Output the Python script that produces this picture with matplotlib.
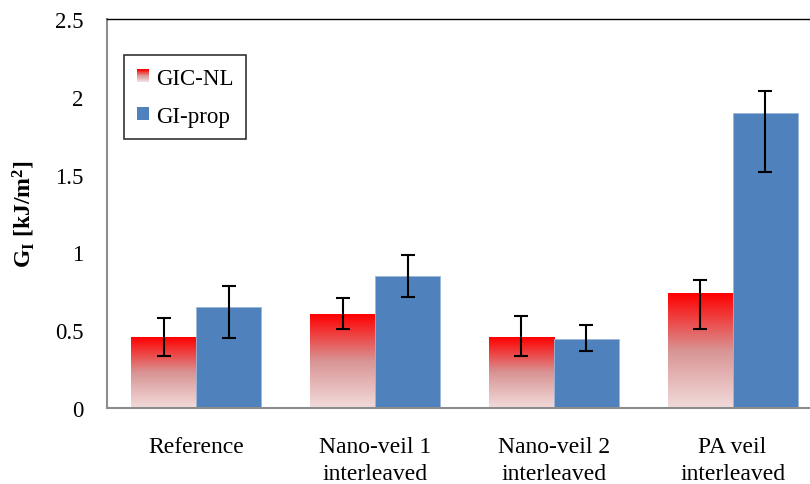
import numpy as np
import matplotlib
matplotlib.use("Agg")
import matplotlib.pyplot as plt
from matplotlib.patches import Rectangle
from matplotlib.legend_handler import HandlerBase
from matplotlib.colors import LinearSegmentedColormap

categories = ["Reference", "Nano-veil 1\ninterleaved", "Nano-veil 2\ninterleaved", "PA veil\ninterleaved"]
gic_nl = [0.456, 0.598, 0.450, 0.739]
gic_nl_hi = [0.578, 0.707, 0.589, 0.822]
gic_nl_lo = [0.334, 0.508, 0.334, 0.510]
gi_prop = [0.651, 0.848, 0.443, 1.896]
gi_prop_hi = [0.786, 0.985, 0.531, 2.040]
gi_prop_lo = [0.450, 0.715, 0.366, 1.517]

plt.rcParams['font.family'] = ['Liberation Serif', 'DejaVu Serif']
plt.rcParams['mathtext.fontset'] = 'custom'
plt.rcParams['mathtext.rm'] = 'Liberation Serif'
plt.rcParams['mathtext.bf'] = 'Liberation Serif:bold'
plt.rcParams['mathtext.it'] = 'Liberation Serif:italic'

red_grad = LinearSegmentedColormap.from_list("redgrad", [(0.95, 0.86, 0.86), (0.85, 0.58, 0.58), (1.0, 0.0, 0.0)])
blue = "#4F81BD"

fig = plt.figure(figsize=(8.1, 4.85), dpi=100)
ax = fig.add_axes([107 / 810, 76 / 485, 715 / 810, 389 / 485])

x = np.arange(len(categories))
w = 0.364
grad = np.linspace(0, 1, 256).reshape(-1, 1)

# red bars with vertical gradient
for xi, v in zip(x, gic_nl):
    ax.imshow(grad, cmap=red_grad, origin="lower", aspect="auto",
              extent=[xi - w, xi, 0, v], zorder=2)
ax.bar(x + w / 2, gi_prop, w, color=blue, edgecolor="#9db7d8", linewidth=0.6, zorder=2)

ax.errorbar(x - w / 2, gic_nl,
            yerr=[np.array(gic_nl) - np.array(gic_nl_lo), np.array(gic_nl_hi) - np.array(gic_nl)],
            fmt="none", ecolor="black", elinewidth=1.5, capsize=5, capthick=1.5, zorder=3)
ax.errorbar(x + w / 2, gi_prop,
            yerr=[np.array(gi_prop) - np.array(gi_prop_lo), np.array(gi_prop_hi) - np.array(gi_prop)],
            fmt="none", ecolor="black", elinewidth=1.5, capsize=5, capthick=1.5, zorder=3)

ax.set_xlim(-0.5, 3.5)
ax.set_ylim(0, 2.5)
ax.set_yticks([0, 0.5, 1, 1.5, 2, 2.5])
ax.set_yticklabels(["0", "0.5", "1", "1.5", "2", "2.5"])
ax.set_xticks(x)
ax.set_xticklabels(categories, linespacing=1.4)
ax.tick_params(axis="both", length=0, colors="black")
ax.tick_params(axis="y", pad=17, labelsize=16.5)
ax.tick_params(axis="x", pad=20, labelsize=17)
ax.set_ylabel(r"$\mathbf{G_I}$ [kJ/m$\mathbf{^2}$]", fontsize=17, fontweight="bold", labelpad=13)

ax.spines["left"].set_color("#8c8c8c")
ax.spines["left"].set_linewidth(1.5)
ax.spines["bottom"].set_color("#8c8c8c")
ax.spines["bottom"].set_linewidth(1.5)
ax.spines["top"].set_color("black")
ax.spines["top"].set_linewidth(1.0)
ax.spines["right"].set_visible(False)


class GradientHandler(HandlerBase):
    def create_artists(self, legend, orig_handle, xdescent, ydescent, width, height, fontsize, trans):
        n = 20
        artists = []
        for i in range(n):
            c = red_grad(1 - i / (n - 1))
            artists.append(Rectangle((-xdescent, -ydescent + height * (1 - (i + 1) / n)), width, height / n,
                                     facecolor=c, edgecolor="none", transform=trans))
        return artists


proxy_red = Rectangle((0, 0), 1, 1)
proxy_blue = Rectangle((0, 0), 1, 1, facecolor=blue)
leg = ax.legend([proxy_red, proxy_blue], ["GIC-NL", "GI-prop"],
                handler_map={proxy_red: GradientHandler()},
                loc="upper left", bbox_to_anchor=(17 / 715, 1 - 36 / 389),
                fontsize=16.5, frameon=True, fancybox=False, edgecolor="black",
                handlelength=0.55, handleheight=0.45, handletextpad=0.3,
                labelspacing=0.75, borderpad=0.55, borderaxespad=0)
leg.get_frame().set_linewidth(1.2)

fig.savefig("out.png", dpi=100)
